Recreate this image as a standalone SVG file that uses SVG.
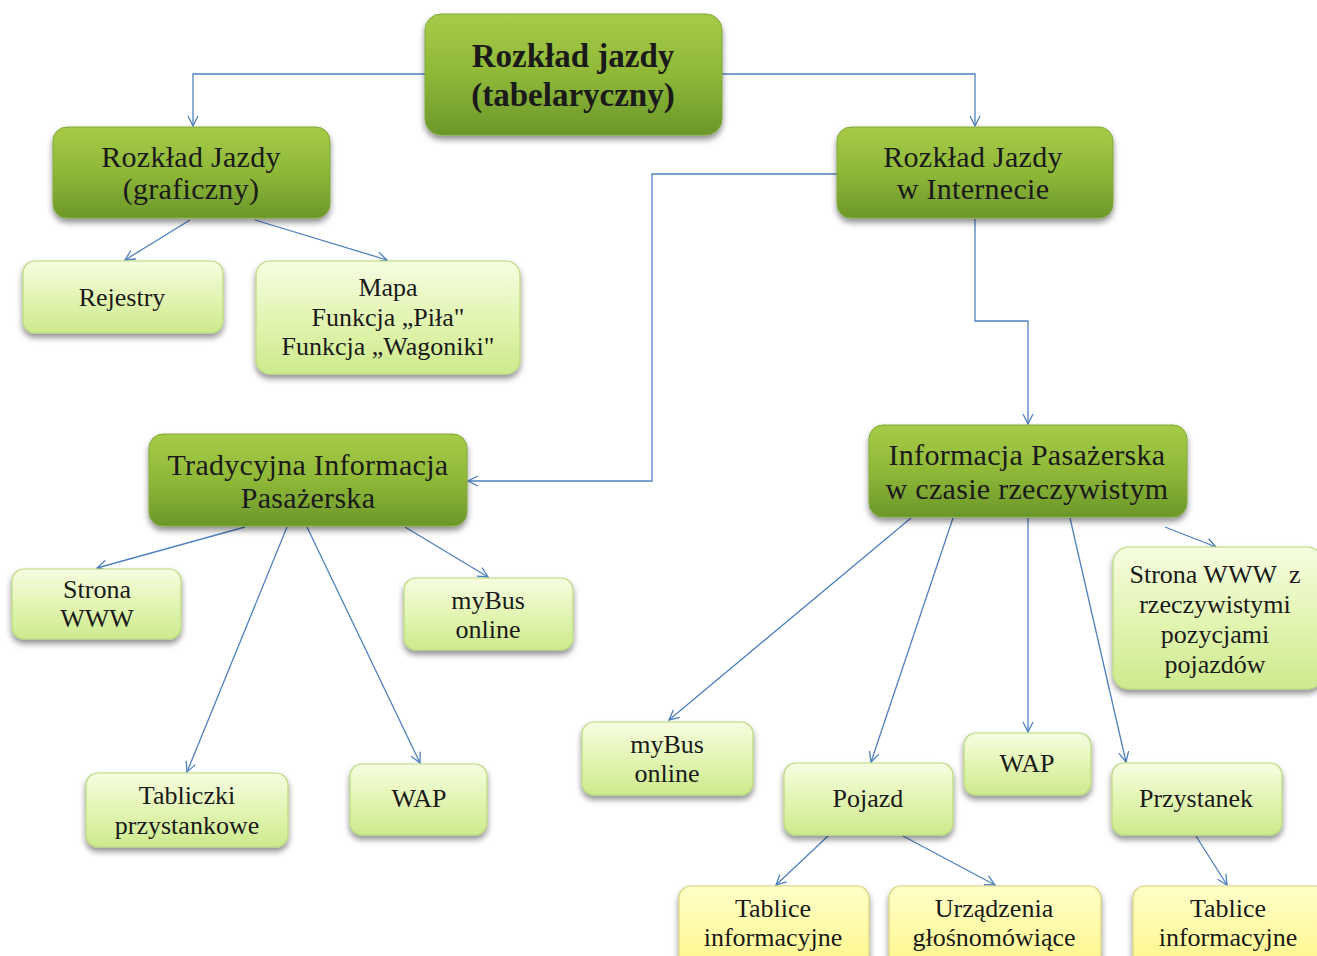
<svg xmlns="http://www.w3.org/2000/svg" width="1317" height="956" viewBox="0 0 1317 956">
<defs>
<linearGradient id="gDark" x1="0" y1="0" x2="0" y2="1">
<stop offset="0" stop-color="#a6cb48"/><stop offset="0.5" stop-color="#8fb838"/><stop offset="1" stop-color="#6b972a"/>
</linearGradient>
<linearGradient id="gLight" x1="0" y1="0" x2="0" y2="1">
<stop offset="0" stop-color="#f6fde0"/><stop offset="0.5" stop-color="#e3f5b4"/><stop offset="1" stop-color="#cdea8c"/>
</linearGradient>
<linearGradient id="gYellow" x1="0" y1="0" x2="0" y2="1">
<stop offset="0" stop-color="#ffffc8"/><stop offset="1" stop-color="#fff68a"/>
</linearGradient>
<filter id="sh" x="-10%" y="-10%" width="120%" height="130%">
<feGaussianBlur in="SourceAlpha" stdDeviation="3"/>
<feOffset dx="0" dy="4"/>
<feComponentTransfer><feFuncA type="linear" slope="0.45"/></feComponentTransfer>
<feMerge><feMergeNode/><feMergeNode in="SourceGraphic"/></feMerge>
</filter>
<marker id="arr" viewBox="0 0 12 12" refX="11" refY="6" markerWidth="12" markerHeight="12" markerUnits="userSpaceOnUse" orient="auto">
<polyline points="1,1 11,6 1,11" fill="none" stroke="#4f81bd" stroke-width="1.3"/>
</marker>
<style>
.dark{fill:url(#gDark);stroke:#7fa83a;stroke-width:1;filter:url(#sh)}
.light{fill:url(#gLight);stroke:#b9d97c;stroke-width:1.2;filter:url(#sh)}
.yel{fill:url(#gYellow);stroke:#d8d27c;stroke-width:1.2;filter:url(#sh)}
text{font-family:"Liberation Serif","Times New Roman",serif;fill:#1a1a1a;text-anchor:middle}
.t1{font-size:33px;font-weight:bold}
.t2{font-size:30px;letter-spacing:0.3px}
.t3{font-size:26px}
.con{fill:none;stroke:#4f81bd;stroke-width:1.3;marker-end:url(#arr)}
</style>
</defs>
<rect width="1317" height="956" fill="#ffffff"/>
<g id="connectors">
<polyline class="con" points="425,74 193,74 193,126"/>
<polyline class="con" points="722,74 975,74 975,126"/>
<polyline class="con" points="837,174 652,174 652,481 468,481"/>
<polyline class="con" points="975,219 975,321 1028,321 1028,424"/>
<line class="con" x1="190" y1="220" x2="125" y2="260"/>
<line class="con" x1="255" y1="220" x2="387" y2="260"/>
<line class="con" x1="245" y1="527" x2="97" y2="568"/>
<line class="con" x1="287" y1="527" x2="187" y2="772"/>
<line class="con" x1="307" y1="527" x2="420" y2="763"/>
<line class="con" x1="405" y1="527" x2="488" y2="577"/>
<line class="con" x1="911" y1="518" x2="669" y2="720"/>
<line class="con" x1="953" y1="518" x2="871" y2="762"/>
<line class="con" x1="1028" y1="518" x2="1028" y2="732"/>
<line class="con" x1="1070" y1="518" x2="1126" y2="762"/>
<line class="con" x1="1165" y1="527" x2="1216" y2="547"/>
<line class="con" x1="828" y1="836" x2="776" y2="885"/>
<line class="con" x1="903" y1="836" x2="995" y2="885"/>
<line class="con" x1="1196" y1="836" x2="1227" y2="885"/>
</g>
<g id="root">
<rect class="dark" x="425" y="14" width="297" height="121" rx="16"/>
<text class="t1" x="573" y="67">Rozkład jazdy</text>
<text class="t1" x="573" y="106">(tabelaryczny)</text>
</g>
<g id="rj-graficzny">
<rect class="dark" x="53" y="127" width="277" height="91" rx="14"/>
<text class="t2" x="191" y="167">Rozkład Jazdy</text>
<text class="t2" x="191" y="199">(graficzny)</text>
</g>
<g id="rj-internet">
<rect class="dark" x="837" y="127" width="276" height="91" rx="14"/>
<text class="t2" x="973" y="167">Rozkład Jazdy</text>
<text class="t2" x="973" y="199">w Internecie</text>
</g>
<g id="rejestry">
<rect class="light" x="23" y="261" width="200" height="72" rx="12"/>
<text class="t3" x="122" y="306">Rejestry</text>
</g>
<g id="mapa">
<rect class="light" x="256" y="261" width="264" height="113" rx="14"/>
<text class="t3" x="388" y="296">Mapa</text>
<text class="t3" x="388" y="326">Funkcja „Piła"</text>
<text class="t3" x="388" y="355">Funkcja „Wagoniki"</text>
</g>
<g id="tradycyjna">
<rect class="dark" x="149" y="434" width="318" height="92" rx="14"/>
<text class="t2" x="308" y="475">Tradycyjna Informacja</text>
<text class="t2" x="308" y="508">Pasażerska</text>
</g>
<g id="info-rt">
<rect class="dark" x="869" y="425" width="318" height="92" rx="14"/>
<text class="t2" x="1027" y="465">Informacja Pasażerska</text>
<text class="t2" x="1027" y="499">w czasie rzeczywistym</text>
</g>
<g id="strona-www">
<rect class="light" x="12" y="569" width="169" height="70" rx="12"/>
<text class="t3" x="97" y="598">Strona</text>
<text class="t3" x="97" y="627">WWW</text>
</g>
<g id="mybus-left">
<rect class="light" x="404" y="578" width="169" height="72" rx="12"/>
<text class="t3" x="488" y="609">myBus</text>
<text class="t3" x="488" y="638">online</text>
</g>
<g id="strona-www-rt">
<rect class="light" x="1113" y="547" width="210" height="142" rx="16"/>
<text class="t3" x="1215" y="583">Strona WWW<tspan dx="12">z</tspan></text>
<text class="t3" x="1215" y="613">rzeczywistymi</text>
<text class="t3" x="1215" y="643">pozycjami</text>
<text class="t3" x="1215" y="673">pojazdów</text>
</g>
<g id="tabliczki">
<rect class="light" x="86" y="773" width="202" height="74" rx="12"/>
<text class="t3" x="187" y="804">Tabliczki</text>
<text class="t3" x="187" y="834">przystankowe</text>
</g>
<g id="wap-left">
<rect class="light" x="350" y="764" width="137" height="71" rx="12"/>
<text class="t3" x="419" y="807">WAP</text>
</g>
<g id="mybus-right">
<rect class="light" x="582" y="722" width="171" height="73" rx="12"/>
<text class="t3" x="667" y="753">myBus</text>
<text class="t3" x="667" y="782">online</text>
</g>
<g id="pojazd">
<rect class="light" x="784" y="763" width="169" height="72" rx="12"/>
<text class="t3" x="868" y="807">Pojazd</text>
</g>
<g id="wap-right">
<rect class="light" x="964" y="733" width="127" height="62" rx="12"/>
<text class="t3" x="1027" y="772">WAP</text>
</g>
<g id="przystanek">
<rect class="light" x="1112" y="763" width="170" height="72" rx="12"/>
<text class="t3" x="1196" y="807">Przystanek</text>
</g>
<g id="tablice-1">
<rect class="yel" x="679" y="886" width="190" height="85" rx="12"/>
<text class="t3" x="773" y="917">Tablice</text>
<text class="t3" x="773" y="946">informacyjne</text>
</g>
<g id="urzadzenia">
<rect class="yel" x="889" y="886" width="212" height="85" rx="12"/>
<text class="t3" x="994" y="917">Urządzenia</text>
<text class="t3" x="994" y="946">głośnomówiące</text>
</g>
<g id="tablice-2">
<rect class="yel" x="1133" y="886" width="195" height="85" rx="12"/>
<text class="t3" x="1228" y="917">Tablice</text>
<text class="t3" x="1228" y="946">informacyjne</text>
</g>
</svg>
